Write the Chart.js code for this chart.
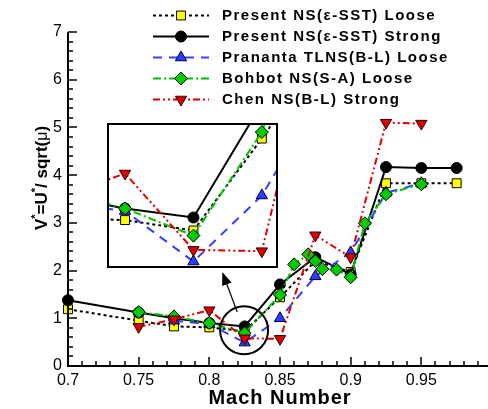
<!DOCTYPE html>
<html><head><meta charset="utf-8">
<script src="https://cdn.jsdelivr.net/npm/chart.js@4.4.1/dist/chart.umd.min.js"></script>
<style>
html,body{margin:0;padding:0;background:#fff;overflow:hidden;}
#wrap{position:relative;width:488px;height:409px;overflow:hidden;}
#main{position:absolute;left:0;top:0;}
#inset{position:absolute;left:107px;top:123px;}
</style></head><body>
<div id="wrap"><canvas id="main" width="500" height="409"></canvas><canvas id="inset" width="171" height="145"></canvas></div>
<script>
// ---- data ----
const seriesNames = ['Present NS(\u03b5-SST) Loose','Present NS(\u03b5-SST) Strong','Prananta TLNS(B-L) Loose','Bohbot NS(S-A) Loose','Chen NS(B-L) Strong'];
const machLooseSST = [0.7,0.75,0.775,0.8,0.825,0.85,0.875,0.9,0.925,0.95,0.975];
const vLooseSST    = [1.19,0.95,0.83,0.81,0.73,1.44,2.2,1.97,3.83,3.83,3.83];
const machStrongSST = [0.7,0.75,0.775,0.8,0.825,0.85,0.875,0.9,0.925,0.95,0.975];
const vStrongSST    = [1.38,1.12,1.0,0.9,0.83,1.71,2.28,1.92,4.17,4.15,4.15];
const machPrananta = [0.775,0.8,0.825,0.85,0.875,0.9,0.925,0.95];
const vPrananta    = [0.95,0.88,0.49,1.0,1.88,2.38,3.63,3.83];
const machBohbot = [0.75,0.775,0.8,0.825,0.85,0.86,0.87,0.875,0.88,0.89,0.9,0.91,0.925,0.95];
const vBohbot    = [1.13,1.04,0.9,0.69,1.49,2.13,2.34,2.2,2.03,2.02,1.86,2.99,3.6,3.81];
const machChen = [0.75,0.775,0.8,0.825,0.85,0.875,0.9,0.925,0.95];
const vChen    = [0.82,0.98,1.17,0.58,0.57,2.74,2.28,5.1,5.08];
const xTickValues = [0.7,0.75,0.8,0.85,0.9,0.95,1.0];
const yTickValues = [0,1,2,3,4,5,6,7];
const mainRangeX = [0.7,1.0], mainRangeY = [0,7];
const insetRangeX = [0.7934,0.8559], insetRangeY = [0.44,1.56];
const circleCenter = {x:0.8246, y:0.75};
const arrowFrom = {x:0.8197, y:1.13}, arrowTo = {x:0.8092, y:1.97};

const FONT = "'Liberation Sans', Arial, Helvetica, sans-serif";
Chart.defaults.font.family = FONT;

const styles = [
  {borderColor:'#000', borderWidth:2, borderDash:[3,3], pointStyle:'rect', pointRadius:6.3, pointBackgroundColor:'#ffff00', pointBorderColor:'#000', pointBorderWidth:1, pointRotation:0, order:5},
  {borderColor:'#000', borderWidth:2, borderDash:[], pointStyle:'circle', pointRadius:5.5, pointBackgroundColor:'#000', pointBorderColor:'#000', pointBorderWidth:1, pointRotation:0, order:4},
  {borderColor:'#3340ff', borderWidth:2, borderDash:[9,7], pointStyle:'triangle', pointRadius:6.5, pointBackgroundColor:'#2a3cff', pointBorderColor:'#000040', pointBorderWidth:1, pointRotation:0, order:3},
  {borderColor:'#00c000', borderWidth:2, borderDash:[8,3,2,3], pointStyle:'rectRot', pointRadius:6.5, pointBackgroundColor:'#00cc00', pointBorderColor:'#000', pointBorderWidth:1, pointRotation:0, order:2},
  {borderColor:'#e00000', borderWidth:2, borderDash:[7,3,2,3,2,3], pointStyle:'triangle', pointRadius:6.5, pointBackgroundColor:'#dd0000', pointBorderColor:'#300000', pointBorderWidth:1, pointRotation:180, order:1}
];
const machs = [machLooseSST, machStrongSST, machPrananta, machBohbot, machChen];
const vals = [vLooseSST, vStrongSST, vPrananta, vBohbot, vChen];

function makeDatasets(clip){
  return seriesNames.map((name,i)=>Object.assign({
    label:name,
    data: machs[i].map((m,j)=>({x:m,y:vals[i][j]})),
    fill:false, tension:0, pointHoverRadius:0, clip: clip
  }, JSON.parse(JSON.stringify(styles[i]))));
}

function drawMarker(ctx, st, x, y){
  ctx.save();
  ctx.setLineDash([]);
  ctx.fillStyle = st.pointBackgroundColor;
  ctx.strokeStyle = st.pointBorderColor;
  ctx.lineWidth = st.pointBorderWidth;
  Chart.helpers.drawPoint(ctx, {pointStyle:st.pointStyle, rotation:st.pointRotation, radius:st.pointRadius, borderWidth:st.pointBorderWidth}, x, y);
  ctx.restore();
}

const mainDeco = {
  id:'mainDeco',
  afterDatasetsDraw(chart){
    const ctx = chart.ctx, xs = chart.scales.x, ys = chart.scales.y;
    ctx.save();
    ctx.strokeStyle = '#000'; ctx.lineWidth = 2; ctx.setLineDash([]);
    ctx.beginPath();
    ctx.arc(xs.getPixelForValue(circleCenter.x), ys.getPixelForValue(circleCenter.y), 24, 0, Math.PI*2);
    ctx.stroke();
    const x1 = xs.getPixelForValue(arrowFrom.x), y1 = ys.getPixelForValue(arrowFrom.y);
    const x2 = xs.getPixelForValue(arrowTo.x), y2 = ys.getPixelForValue(arrowTo.y);
    const ang = Math.atan2(y2-y1, x2-x1);
    const hl = 13, hw = 5;
    ctx.lineWidth = 1.2;
    ctx.beginPath(); ctx.moveTo(x1,y1); ctx.lineTo(x2 - Math.cos(ang)*hl*0.8, y2 - Math.sin(ang)*hl*0.8); ctx.stroke();
    ctx.fillStyle = '#000';
    ctx.beginPath();
    ctx.moveTo(x2,y2);
    ctx.lineTo(x2 - Math.cos(ang)*hl - Math.sin(ang)*hw, y2 - Math.sin(ang)*hl + Math.cos(ang)*hw);
    ctx.lineTo(x2 - Math.cos(ang)*hl + Math.sin(ang)*hw, y2 - Math.sin(ang)*hl - Math.cos(ang)*hw);
    ctx.closePath(); ctx.fill();
    ctx.restore();
  },
  afterDraw(chart){
    const ctx = chart.ctx, xs = chart.scales.x, ys = chart.scales.y, a = chart.chartArea;
    ctx.save();
    ctx.strokeStyle = '#000'; ctx.setLineDash([]);
    ctx.lineWidth = 2;
    const L = Math.round(a.left), B = Math.round(a.bottom);
    ctx.beginPath(); ctx.moveTo(L, a.top); ctx.lineTo(L, B); ctx.lineTo(a.right+2, B); ctx.stroke();
    ctx.lineWidth = 1.5;
    for(let i=0;i<=30;i++){
      const px = Math.round(xs.getPixelForValue(mainRangeX[0] + i*0.01));
      const len = i%5===0 ? 9 : 5;
      ctx.beginPath(); ctx.moveTo(px, B); ctx.lineTo(px, B-len); ctx.stroke();
    }
    for(let i=0;i<=35;i++){
      const py = Math.round(ys.getPixelForValue(i*0.2));
      const len = i%5===0 ? 9 : 5;
      ctx.beginPath(); ctx.moveTo(L, py); ctx.lineTo(L+len, py); ctx.stroke();
    }
    // legend
    for(let i=0;i<seriesNames.length;i++){
      const y = 15.5 + i*21;
      const st = styles[i];
      ctx.save();
      ctx.strokeStyle = st.borderColor; ctx.lineWidth = 2; ctx.setLineDash(st.borderDash);
      ctx.beginPath(); ctx.moveTo(153, y); ctx.lineTo(209, y); ctx.stroke();
      ctx.restore();
      drawMarker(ctx, st, 181, y);
      ctx.fillStyle = '#000';
      ctx.font = 'bold 15px ' + FONT;
      try { ctx.letterSpacing = '1.5px'; } catch(e){}
      ctx.textBaseline = 'middle'; ctx.textAlign = 'left';
      ctx.fillText(seriesNames[i], 222, y+0.5);
      try { ctx.letterSpacing = '0px'; } catch(e){}
    }
    // x title
    ctx.font = 'bold 20px ' + FONT;
    ctx.textAlign = 'center'; ctx.textBaseline = 'alphabetic';
    try { ctx.letterSpacing = '1px'; } catch(e){}
    ctx.fillText('Mach Number', (a.left + 492)/2, 404);
    try { ctx.letterSpacing = '0px'; } catch(e){}
    // y title with superscripts
    ctx.save();
    ctx.translate(47, 178);
    ctx.rotate(-Math.PI/2);
    const parts = [
      {t:'V', f:'bold 17px '+FONT, dy:0},
      {t:'*', f:'bold 11px '+FONT, dy:-8},
      {t:'=U', f:'bold 17px '+FONT, dy:0},
      {t:'*', f:'bold 11px '+FONT, dy:-8},
      {t:'/ sqrt(', f:'bold 17px '+FONT, dy:0},
      {t:'\u03bc', f:'16px '+FONT, dy:0},
      {t:')', f:'bold 17px '+FONT, dy:0}
    ];
    let total = 0;
    parts.forEach(p=>{ ctx.font = p.f; p.w = ctx.measureText(p.t).width; total += p.w; });
    let cx = -total/2;
    ctx.textAlign = 'left'; ctx.textBaseline = 'alphabetic';
    parts.forEach(p=>{ ctx.font = p.f; ctx.fillText(p.t, cx, p.dy); cx += p.w; });
    ctx.restore();
    ctx.restore();
  }
};

const mainChart = new Chart(document.getElementById('main'), {
  type:'line',
  data:{datasets: makeDatasets(false)},
  options:{
    responsive:false, animation:false, devicePixelRatio:1, events:[],
    layout:{padding:{left:0, top:32, right:8, bottom:0}},
    plugins:{legend:{display:false}, tooltip:{enabled:false}},
    scales:{
      x:{type:'linear', min:mainRangeX[0], max:mainRangeX[1],
         grid:{display:false, drawTicks:false}, border:{display:false},
         afterBuildTicks(s){ s.ticks = xTickValues.map(v=>({value:v})); },
         afterFit(s){ s.height = 43; s.paddingLeft = 0; s.paddingRight = 0; },
         ticks:{autoSkip:false, maxRotation:0, padding:5, color:'#000', font:{size:16, family:FONT},
           callback:(v)=> v>0.99 ? '' : String(+v.toFixed(2))}},
      y:{type:'linear', min:mainRangeY[0], max:mainRangeY[1],
         grid:{display:false, drawTicks:false}, border:{display:false},
         afterBuildTicks(s){ s.ticks = yTickValues.map(v=>({value:v})); },
         afterFit(s){ s.width = 68; s.paddingTop = 0; s.paddingBottom = 0; },
         ticks:{autoSkip:false, padding:6, color:'#000', font:{size:16, family:FONT},
           callback:(v)=> String(v)}}
    }
  },
  plugins:[mainDeco]
});

const insetDeco = {
  id:'insetDeco',
  beforeDraw(chart){
    const ctx = chart.ctx;
    ctx.save(); ctx.fillStyle = '#fff'; ctx.fillRect(0,0,chart.width,chart.height); ctx.restore();
  },
  afterDraw(chart){
    const ctx = chart.ctx;
    ctx.save(); ctx.strokeStyle = '#000'; ctx.lineWidth = 2; ctx.setLineDash([]);
    ctx.strokeRect(1,1,chart.width-2,chart.height-2); ctx.restore();
  }
};

const insetChart = new Chart(document.getElementById('inset'), {
  type:'line',
  data:{datasets: makeDatasets(undefined)},
  options:{
    responsive:false, animation:false, devicePixelRatio:1, events:[],
    layout:{padding:0, autoPadding:false},
    plugins:{legend:{display:false}, tooltip:{enabled:false}},
    scales:{
      x:{type:'linear', display:false, min:insetRangeX[0], max:insetRangeX[1]},
      y:{type:'linear', display:false, min:insetRangeY[0], max:insetRangeY[1]}
    }
  },
  plugins:[insetDeco]
});
</script>
</body></html>
